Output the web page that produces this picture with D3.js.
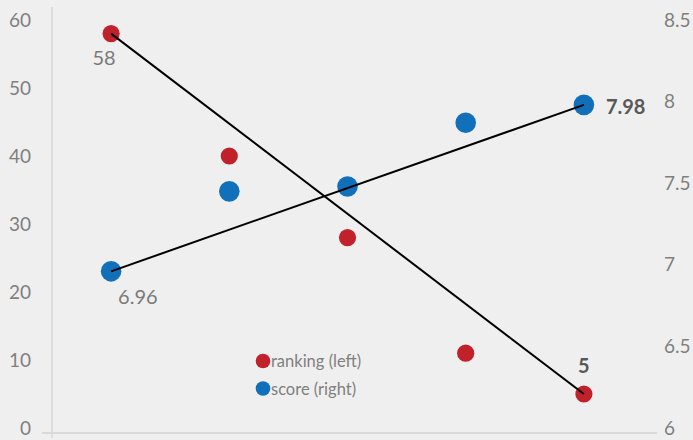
<!DOCTYPE html>
<html>
<head>
<meta charset="utf-8">
<script src="https://cdn.jsdelivr.net/npm/d3@7"></script>
<style>
  html, body { margin: 0; padding: 0; background: #efefef; }
  svg { display: block; font-family: Lato, "Open Sans", sans-serif; }
</style>
</head>
<body>
<svg id="chart" width="693" height="440"></svg>
<script>
// Chart data
const categories = [1, 2, 3, 4, 5];
const ranking = [58, 40, 28, 11, 5];          // left axis
const score = [6.96, 7.45, 7.48, 7.87, 7.98]; // right axis
const leftTicks = [0, 10, 20, 30, 40, 50, 60];
const rightTicks = [6, 6.5, 7, 7.5, 8, 8.5];
const seriesNames = ["ranking (left)", "score (right)"];

const W = 693, H = 440;
const plot = { left: 52, right: 643, top: 20, bottom: 428 };
const red = "#c1212b", blue = "#1270ba";

const svg = d3.select("#chart");
svg.append("rect").attr("width", W).attr("height", H).attr("fill", "#efefef");

const x = d3.scaleBand().domain(categories).range([plot.left, plot.right]);
const cx = d => x(d) + x.bandwidth() / 2;
const yL = d3.scaleLinear().domain([0, 60]).range([plot.bottom, plot.top]);
const yR = d3.scaleLinear().domain([6, 8.5]).range([plot.bottom, plot.top]);

// Axes
const leftAxis = d3.axisLeft(yL).tickValues(leftTicks).tickSize(0).tickPadding(21);
const rightAxis = d3.axisRight(yR).tickValues(rightTicks).tickSize(0).tickPadding(21)
  .tickFormat(d3.format("~g"));

const gL = svg.append("g").attr("transform", `translate(${plot.left},0)`).call(leftAxis);
const gR = svg.append("g").attr("transform", `translate(${plot.right},0)`).call(rightAxis);
[gL, gR].forEach(g => {
  g.select(".domain").remove();
  g.selectAll("text").attr("fill", "#7f7f7f").style("font-size", "19px")
    .style("font-family", "Lato, 'Open Sans', sans-serif");
});

// Vertical axis line and baseline
svg.append("line").attr("x1", plot.left).attr("x2", plot.left)
  .attr("y1", 7).attr("y2", 438).attr("stroke", "#d0d0d0").attr("stroke-width", 1.2);
svg.append("line").attr("x1", 42).attr("x2", 657)
  .attr("y1", 433).attr("y2", 433).attr("stroke", "#d9d9d9").attr("stroke-width", 2);

// Points
svg.append("g").selectAll("circle").data(categories).join("circle")
  .attr("cx", d => cx(d)).attr("cy", (d, i) => yL(ranking[i])).attr("r", 8.6).attr("fill", red);
svg.append("g").selectAll("circle").data(categories).join("circle")
  .attr("cx", d => cx(d)).attr("cy", (d, i) => yR(score[i])).attr("r", 10.3).attr("fill", blue);

// Lines from first to last point of each series
const n = categories.length - 1;
svg.append("line")
  .attr("x1", cx(categories[0])).attr("y1", yL(ranking[0]))
  .attr("x2", cx(categories[n])).attr("y2", yL(ranking[n]))
  .attr("stroke", "#000").attr("stroke-width", 2);
svg.append("line")
  .attr("x1", cx(categories[0])).attr("y1", yR(score[0]))
  .attr("x2", cx(categories[n])).attr("y2", yR(score[n]))
  .attr("stroke", "#000").attr("stroke-width", 2);

// Data labels
const lab = (t, xx, yy, bold, anchor) => svg.append("text")
  .attr("x", xx).attr("y", yy).attr("text-anchor", anchor || "middle")
  .attr("dominant-baseline", "central")
  .attr("fill", bold ? "#595959" : "#7a7a7a")
  .style("font-size", "20px").style("font-weight", bold ? "bold" : "normal")
  .text(t);
lab(ranking[0], cx(categories[0]) - 7, yL(ranking[0]) + 23, false);
lab(ranking[n], cx(categories[n]), yL(ranking[n]) - 29, true);
lab(score[0].toFixed(2), cx(categories[0]) + 7, yR(score[0]) + 25, false, "start");
lab(score[n].toFixed(2), cx(categories[n]) + 22, yR(score[n]) + 1, true, "start");

// Legend
const legend = svg.append("g").attr("transform", "translate(263,361)");
[red, blue].forEach((c, i) => {
  const g = legend.append("g").attr("transform", `translate(0,${i * 27.5})`);
  g.append("circle").attr("r", 7.3).attr("fill", c);
  g.append("text").attr("x", 8).attr("dominant-baseline", "central")
    .attr("fill", "#7f7f7f").style("font-size", "16.5px").text(seriesNames[i]);
});
</script>
</body>
</html>
